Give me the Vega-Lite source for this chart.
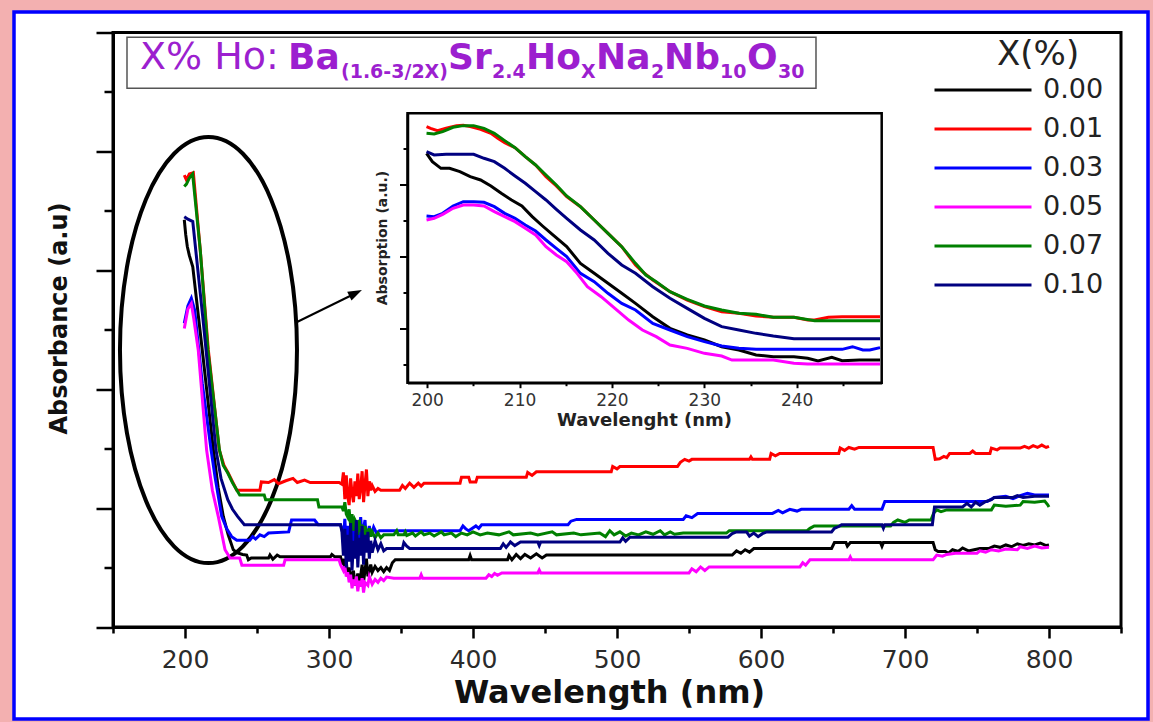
{
  "$schema": "https://vega.github.io/schema/vega-lite/v6.json",
  "width": 1008,
  "height": 594.5,
  "autosize": {"type": "none"},
  "padding": {"left": 113, "top": 32.5, "right": 32, "bottom": 95},
  "background": "white",
  "config": {"view": {"stroke": null}, "font": "DejaVu Sans"},
  "datasets": {
    "main": [
      {"s":"0.00","wl":199.5,"a":6.85},{"s":"0.00","wl":200.5,"a":6.6},{"s":"0.00","wl":201.6,"a":6.4},{"s":"0.00","wl":203,"a":6.25},{"s":"0.00","wl":205.4,"a":6.06},{"s":"0.00","wl":212.5,"a":4.55},{"s":"0.00","wl":219.7,"a":2.98},{"s":"0.00","wl":223,"a":2.35},{"s":"0.00","wl":226.6,"a":1.86},{"s":"0.00","wl":230,"a":1.55},{"s":"0.00","wl":233.5,"a":1.3},{"s":"0.00","wl":236,"a":1.25},{"s":"0.00","wl":240,"a":1.22},{"s":"0.00","wl":242.8,"a":1.21},{"s":"0.00","wl":244,"a":1.13},{"s":"0.00","wl":246,"a":1.16},{"s":"0.00","wl":258,"a":1.16},{"s":"0.00","wl":259,"a":1.21},{"s":"0.00","wl":261,"a":1.14},{"s":"0.00","wl":264,"a":1.21},{"s":"0.00","wl":266,"a":1.18},{"s":"0.00","wl":301,"a":1.18},{"s":"0.00","wl":302,"a":1.22},{"s":"0.00","wl":304,"a":1.18},{"s":"0.00","wl":308,"a":1.18},{"s":"0.00","wl":309,"a":1.05},{"s":"0.00","wl":310,"a":1.15},{"s":"0.00","wl":311,"a":0.95},{"s":"0.00","wl":312,"a":1.1},{"s":"0.00","wl":313,"a":0.85},{"s":"0.00","wl":314,"a":1.0},{"s":"0.00","wl":316,"a":0.78},{"s":"0.00","wl":317,"a":0.95},{"s":"0.00","wl":318,"a":0.7},{"s":"0.00","wl":320,"a":0.9},{"s":"0.00","wl":321,"a":0.68},{"s":"0.00","wl":323,"a":1.05},{"s":"0.00","wl":324,"a":0.75},{"s":"0.00","wl":326,"a":1.15},{"s":"0.00","wl":327,"a":0.85},{"s":"0.00","wl":329,"a":1.05},{"s":"0.00","wl":330,"a":0.92},{"s":"0.00","wl":332,"a":1.02},{"s":"0.00","wl":334,"a":0.95},{"s":"0.00","wl":336,"a":1.0},{"s":"0.00","wl":338,"a":0.93},{"s":"0.00","wl":340,"a":1.0},{"s":"0.00","wl":342,"a":0.95},{"s":"0.00","wl":344,"a":1.08},{"s":"0.00","wl":346,"a":1.13},{"s":"0.00","wl":397,"a":1.13},{"s":"0.00","wl":398,"a":1.2},{"s":"0.00","wl":399,"a":1.13},{"s":"0.00","wl":424,"a":1.13},{"s":"0.00","wl":425,"a":1.2},{"s":"0.00","wl":427,"a":1.13},{"s":"0.00","wl":430,"a":1.22},{"s":"0.00","wl":433,"a":1.15},{"s":"0.00","wl":436,"a":1.22},{"s":"0.00","wl":440,"a":1.16},{"s":"0.00","wl":444,"a":1.23},{"s":"0.00","wl":448,"a":1.16},{"s":"0.00","wl":451,"a":1.21},{"s":"0.00","wl":580,"a":1.21},{"s":"0.00","wl":583,"a":1.28},{"s":"0.00","wl":586,"a":1.24},{"s":"0.00","wl":589,"a":1.3},{"s":"0.00","wl":592,"a":1.26},{"s":"0.00","wl":595,"a":1.32},{"s":"0.00","wl":649,"a":1.32},{"s":"0.00","wl":651,"a":1.42},{"s":"0.00","wl":659,"a":1.42},{"s":"0.00","wl":660,"a":1.36},{"s":"0.00","wl":662,"a":1.42},{"s":"0.00","wl":683,"a":1.42},{"s":"0.00","wl":684,"a":1.36},{"s":"0.00","wl":685,"a":1.42},{"s":"0.00","wl":719.5,"a":1.42},{"s":"0.00","wl":721,"a":1.3},{"s":"0.00","wl":723,"a":1.27},{"s":"0.00","wl":728,"a":1.27},{"s":"0.00","wl":730,"a":1.24},{"s":"0.00","wl":733,"a":1.3},{"s":"0.00","wl":737,"a":1.27},{"s":"0.00","wl":740,"a":1.33},{"s":"0.00","wl":744,"a":1.28},{"s":"0.00","wl":748,"a":1.3},{"s":"0.00","wl":752,"a":1.32},{"s":"0.00","wl":758,"a":1.32},{"s":"0.00","wl":762,"a":1.36},{"s":"0.00","wl":766,"a":1.34},{"s":"0.00","wl":770,"a":1.38},{"s":"0.00","wl":774,"a":1.35},{"s":"0.00","wl":778,"a":1.4},{"s":"0.00","wl":782,"a":1.37},{"s":"0.00","wl":786,"a":1.4},{"s":"0.00","wl":790,"a":1.38},{"s":"0.00","wl":794,"a":1.41},{"s":"0.00","wl":798,"a":1.37},{"s":"0.00","wl":800,"a":1.38},
      {"s":"0.01","wl":199.5,"a":7.6},{"s":"0.01","wl":201,"a":7.52},{"s":"0.01","wl":203,"a":7.62},{"s":"0.01","wl":205.8,"a":7.64},{"s":"0.01","wl":210.6,"a":6.34},{"s":"0.01","wl":216.2,"a":4.66},{"s":"0.01","wl":223.8,"a":2.98},{"s":"0.01","wl":227,"a":2.72},{"s":"0.01","wl":230,"a":2.59},{"s":"0.01","wl":233.5,"a":2.42},{"s":"0.01","wl":236,"a":2.3},{"s":"0.01","wl":252,"a":2.3},{"s":"0.01","wl":253,"a":2.44},{"s":"0.01","wl":258,"a":2.43},{"s":"0.01","wl":262,"a":2.48},{"s":"0.01","wl":265,"a":2.41},{"s":"0.01","wl":270,"a":2.46},{"s":"0.01","wl":275,"a":2.5},{"s":"0.01","wl":278,"a":2.43},{"s":"0.01","wl":283,"a":2.47},{"s":"0.01","wl":287,"a":2.43},{"s":"0.01","wl":307,"a":2.43},{"s":"0.01","wl":309,"a":2.4},{"s":"0.01","wl":310,"a":2.6},{"s":"0.01","wl":311,"a":2.15},{"s":"0.01","wl":312,"a":2.55},{"s":"0.01","wl":313,"a":2.2},{"s":"0.01","wl":314,"a":2.05},{"s":"0.01","wl":315,"a":2.5},{"s":"0.01","wl":316,"a":2.25},{"s":"0.01","wl":317,"a":2.1},{"s":"0.01","wl":318,"a":2.45},{"s":"0.01","wl":319,"a":2.2},{"s":"0.01","wl":320,"a":2.58},{"s":"0.01","wl":321,"a":2.15},{"s":"0.01","wl":322,"a":2.35},{"s":"0.01","wl":323,"a":2.62},{"s":"0.01","wl":324,"a":2.1},{"s":"0.01","wl":325,"a":2.4},{"s":"0.01","wl":326,"a":2.65},{"s":"0.01","wl":327,"a":2.2},{"s":"0.01","wl":328,"a":2.45},{"s":"0.01","wl":329,"a":2.3},{"s":"0.01","wl":330,"a":2.38},{"s":"0.01","wl":332,"a":2.28},{"s":"0.01","wl":334,"a":2.33},{"s":"0.01","wl":336,"a":2.3},{"s":"0.01","wl":349,"a":2.3},{"s":"0.01","wl":351,"a":2.38},{"s":"0.01","wl":353,"a":2.33},{"s":"0.01","wl":356,"a":2.42},{"s":"0.01","wl":359,"a":2.35},{"s":"0.01","wl":362,"a":2.42},{"s":"0.01","wl":364,"a":2.37},{"s":"0.01","wl":366,"a":2.42},{"s":"0.01","wl":391,"a":2.42},{"s":"0.01","wl":392,"a":2.52},{"s":"0.01","wl":397,"a":2.52},{"s":"0.01","wl":398,"a":2.44},{"s":"0.01","wl":402,"a":2.44},{"s":"0.01","wl":403,"a":2.52},{"s":"0.01","wl":437,"a":2.52},{"s":"0.01","wl":438,"a":2.6},{"s":"0.01","wl":441,"a":2.55},{"s":"0.01","wl":444,"a":2.61},{"s":"0.01","wl":496,"a":2.61},{"s":"0.01","wl":497,"a":2.7},{"s":"0.01","wl":500,"a":2.66},{"s":"0.01","wl":502,"a":2.7},{"s":"0.01","wl":542,"a":2.7},{"s":"0.01","wl":544,"a":2.77},{"s":"0.01","wl":547,"a":2.82},{"s":"0.01","wl":550,"a":2.79},{"s":"0.01","wl":552,"a":2.82},{"s":"0.01","wl":592,"a":2.82},{"s":"0.01","wl":593,"a":2.86},{"s":"0.01","wl":594,"a":2.82},{"s":"0.01","wl":606,"a":2.82},{"s":"0.01","wl":607,"a":2.92},{"s":"0.01","wl":610,"a":2.88},{"s":"0.01","wl":613,"a":2.92},{"s":"0.01","wl":654,"a":2.92},{"s":"0.01","wl":655,"a":3.01},{"s":"0.01","wl":658,"a":2.97},{"s":"0.01","wl":661,"a":3.02},{"s":"0.01","wl":665,"a":2.99},{"s":"0.01","wl":668,"a":3.02},{"s":"0.01","wl":719.5,"a":3.02},{"s":"0.01","wl":721,"a":2.82},{"s":"0.01","wl":724,"a":2.83},{"s":"0.01","wl":727,"a":2.87},{"s":"0.01","wl":729,"a":2.85},{"s":"0.01","wl":731,"a":2.92},{"s":"0.01","wl":745,"a":2.92},{"s":"0.01","wl":747,"a":2.96},{"s":"0.01","wl":749,"a":2.92},{"s":"0.01","wl":759,"a":2.92},{"s":"0.01","wl":760,"a":3.01},{"s":"0.01","wl":764,"a":2.98},{"s":"0.01","wl":766,"a":3.01},{"s":"0.01","wl":780,"a":3.01},{"s":"0.01","wl":783,"a":3.04},{"s":"0.01","wl":786,"a":3.01},{"s":"0.01","wl":789,"a":3.05},{"s":"0.01","wl":792,"a":3.02},{"s":"0.01","wl":795,"a":3.06},{"s":"0.01","wl":798,"a":3.02},{"s":"0.01","wl":800,"a":3.04},
      {"s":"0.03","wl":199.5,"a":5.11},{"s":"0.03","wl":202,"a":5.4},{"s":"0.03","wl":204.4,"a":5.53},{"s":"0.03","wl":206.7,"a":5.33},{"s":"0.03","wl":212,"a":4.1},{"s":"0.03","wl":218.1,"a":2.98},{"s":"0.03","wl":221,"a":2.5},{"s":"0.03","wl":225.5,"a":1.86},{"s":"0.03","wl":229,"a":1.65},{"s":"0.03","wl":232.4,"a":1.52},{"s":"0.03","wl":236,"a":1.46},{"s":"0.03","wl":245,"a":1.46},{"s":"0.03","wl":247,"a":1.52},{"s":"0.03","wl":249,"a":1.48},{"s":"0.03","wl":252,"a":1.55},{"s":"0.03","wl":255,"a":1.52},{"s":"0.03","wl":258,"a":1.58},{"s":"0.03","wl":272,"a":1.6},{"s":"0.03","wl":274,"a":1.8},{"s":"0.03","wl":290,"a":1.8},{"s":"0.03","wl":292.5,"a":1.72},{"s":"0.03","wl":308,"a":1.72},{"s":"0.03","wl":309,"a":1.65},{"s":"0.03","wl":310,"a":1.5},{"s":"0.03","wl":311,"a":1.82},{"s":"0.03","wl":312,"a":1.35},{"s":"0.03","wl":313,"a":1.7},{"s":"0.03","wl":314,"a":1.45},{"s":"0.03","wl":316,"a":1.85},{"s":"0.03","wl":317,"a":1.4},{"s":"0.03","wl":319,"a":1.75},{"s":"0.03","wl":320,"a":1.3},{"s":"0.03","wl":322,"a":1.85},{"s":"0.03","wl":323,"a":1.5},{"s":"0.03","wl":325,"a":1.8},{"s":"0.03","wl":326,"a":1.45},{"s":"0.03","wl":328,"a":1.7},{"s":"0.03","wl":329,"a":1.52},{"s":"0.03","wl":331,"a":1.68},{"s":"0.03","wl":333,"a":1.58},{"s":"0.03","wl":335,"a":1.62},{"s":"0.03","wl":391,"a":1.62},{"s":"0.03","wl":393,"a":1.7},{"s":"0.03","wl":395,"a":1.65},{"s":"0.03","wl":397,"a":1.62},{"s":"0.03","wl":402,"a":1.7},{"s":"0.03","wl":404,"a":1.66},{"s":"0.03","wl":406,"a":1.72},{"s":"0.03","wl":466,"a":1.72},{"s":"0.03","wl":468,"a":1.78},{"s":"0.03","wl":472,"a":1.81},{"s":"0.03","wl":546,"a":1.81},{"s":"0.03","wl":548,"a":1.87},{"s":"0.03","wl":552,"a":1.84},{"s":"0.03","wl":556,"a":1.91},{"s":"0.03","wl":608,"a":1.91},{"s":"0.03","wl":612,"a":1.96},{"s":"0.03","wl":615,"a":1.92},{"s":"0.03","wl":620,"a":1.98},{"s":"0.03","wl":625,"a":1.95},{"s":"0.03","wl":628,"a":1.98},{"s":"0.03","wl":661,"a":1.98},{"s":"0.03","wl":663,"a":2.04},{"s":"0.03","wl":665,"a":1.98},{"s":"0.03","wl":684,"a":1.98},{"s":"0.03","wl":686,"a":2.11},{"s":"0.03","wl":757,"a":2.11},{"s":"0.03","wl":760,"a":2.15},{"s":"0.03","wl":762,"a":2.18},{"s":"0.03","wl":770,"a":2.2},{"s":"0.03","wl":775,"a":2.16},{"s":"0.03","wl":780,"a":2.21},{"s":"0.03","wl":785,"a":2.25},{"s":"0.03","wl":790,"a":2.22},{"s":"0.03","wl":800,"a":2.22},
      {"s":"0.05","wl":199.5,"a":5.02},{"s":"0.05","wl":202,"a":5.35},{"s":"0.05","wl":204.4,"a":5.44},{"s":"0.05","wl":206,"a":5.2},{"s":"0.05","wl":209.2,"a":4.66},{"s":"0.05","wl":215,"a":2.98},{"s":"0.05","wl":219,"a":2.3},{"s":"0.05","wl":223.1,"a":1.86},{"s":"0.05","wl":227.8,"a":1.3},{"s":"0.05","wl":231.3,"a":1.16},{"s":"0.05","wl":238,"a":1.16},{"s":"0.05","wl":239.5,"a":1.04},{"s":"0.05","wl":268.5,"a":1.04},{"s":"0.05","wl":269.5,"a":1.13},{"s":"0.05","wl":307,"a":1.13},{"s":"0.05","wl":308,"a":1.05},{"s":"0.05","wl":309,"a":1.0},{"s":"0.05","wl":310,"a":0.95},{"s":"0.05","wl":311,"a":1.02},{"s":"0.05","wl":312,"a":0.85},{"s":"0.05","wl":313,"a":0.92},{"s":"0.05","wl":314,"a":0.75},{"s":"0.05","wl":315,"a":0.88},{"s":"0.05","wl":316,"a":0.65},{"s":"0.05","wl":317,"a":0.8},{"s":"0.05","wl":318,"a":0.7},{"s":"0.05","wl":319,"a":0.85},{"s":"0.05","wl":320,"a":0.6},{"s":"0.05","wl":321,"a":0.78},{"s":"0.05","wl":322,"a":0.68},{"s":"0.05","wl":323,"a":0.82},{"s":"0.05","wl":324,"a":0.58},{"s":"0.05","wl":325,"a":0.75},{"s":"0.05","wl":327,"a":0.7},{"s":"0.05","wl":328,"a":0.85},{"s":"0.05","wl":330,"a":0.72},{"s":"0.05","wl":332,"a":0.8},{"s":"0.05","wl":334,"a":0.75},{"s":"0.05","wl":336,"a":0.82},{"s":"0.05","wl":338,"a":0.78},{"s":"0.05","wl":340,"a":0.84},{"s":"0.05","wl":345,"a":0.82},{"s":"0.05","wl":363,"a":0.82},{"s":"0.05","wl":364,"a":0.88},{"s":"0.05","wl":365,"a":0.82},{"s":"0.05","wl":409,"a":0.82},{"s":"0.05","wl":411,"a":0.88},{"s":"0.05","wl":413,"a":0.85},{"s":"0.05","wl":415,"a":0.9},{"s":"0.05","wl":417,"a":0.87},{"s":"0.05","wl":420,"a":0.91},{"s":"0.05","wl":445,"a":0.91},{"s":"0.05","wl":446,"a":0.96},{"s":"0.05","wl":447,"a":0.91},{"s":"0.05","wl":550,"a":0.91},{"s":"0.05","wl":552,"a":0.98},{"s":"0.05","wl":555,"a":0.93},{"s":"0.05","wl":558,"a":1.01},{"s":"0.05","wl":561,"a":0.95},{"s":"0.05","wl":564,"a":1.01},{"s":"0.05","wl":627,"a":1.01},{"s":"0.05","wl":629,"a":1.08},{"s":"0.05","wl":631,"a":1.04},{"s":"0.05","wl":634,"a":1.13},{"s":"0.05","wl":661,"a":1.13},{"s":"0.05","wl":662,"a":1.18},{"s":"0.05","wl":663,"a":1.13},{"s":"0.05","wl":719.5,"a":1.13},{"s":"0.05","wl":722,"a":1.21},{"s":"0.05","wl":726,"a":1.19},{"s":"0.05","wl":729,"a":1.22},{"s":"0.05","wl":735,"a":1.24},{"s":"0.05","wl":750,"a":1.24},{"s":"0.05","wl":752,"a":1.28},{"s":"0.05","wl":756,"a":1.26},{"s":"0.05","wl":760,"a":1.3},{"s":"0.05","wl":765,"a":1.28},{"s":"0.05","wl":770,"a":1.31},{"s":"0.05","wl":778,"a":1.3},{"s":"0.05","wl":780,"a":1.35},{"s":"0.05","wl":785,"a":1.32},{"s":"0.05","wl":790,"a":1.36},{"s":"0.05","wl":795,"a":1.33},{"s":"0.05","wl":800,"a":1.34},
      {"s":"0.07","wl":199.5,"a":7.41},{"s":"0.07","wl":201,"a":7.45},{"s":"0.07","wl":203,"a":7.55},{"s":"0.07","wl":205.3,"a":7.62},{"s":"0.07","wl":210.6,"a":6.34},{"s":"0.07","wl":215.9,"a":4.66},{"s":"0.07","wl":223.9,"a":2.98},{"s":"0.07","wl":226.5,"a":2.72},{"s":"0.07","wl":229.7,"a":2.59},{"s":"0.07","wl":233.1,"a":2.42},{"s":"0.07","wl":236,"a":2.3},{"s":"0.07","wl":238,"a":2.22},{"s":"0.07","wl":255,"a":2.22},{"s":"0.07","wl":256,"a":2.14},{"s":"0.07","wl":292,"a":2.14},{"s":"0.07","wl":293,"a":2.02},{"s":"0.07","wl":309,"a":2.02},{"s":"0.07","wl":310,"a":1.95},{"s":"0.07","wl":311,"a":2.1},{"s":"0.07","wl":312,"a":1.9},{"s":"0.07","wl":313,"a":1.85},{"s":"0.07","wl":314,"a":1.98},{"s":"0.07","wl":315,"a":1.7},{"s":"0.07","wl":316,"a":1.9},{"s":"0.07","wl":317,"a":1.62},{"s":"0.07","wl":318,"a":1.8},{"s":"0.07","wl":319,"a":1.75},{"s":"0.07","wl":320,"a":1.55},{"s":"0.07","wl":321,"a":1.8},{"s":"0.07","wl":322,"a":1.6},{"s":"0.07","wl":323,"a":1.72},{"s":"0.07","wl":324,"a":1.52},{"s":"0.07","wl":325,"a":1.7},{"s":"0.07","wl":326,"a":1.58},{"s":"0.07","wl":327,"a":1.5},{"s":"0.07","wl":328,"a":1.66},{"s":"0.07","wl":329,"a":1.52},{"s":"0.07","wl":330,"a":1.6},{"s":"0.07","wl":332,"a":1.5},{"s":"0.07","wl":334,"a":1.58},{"s":"0.07","wl":336,"a":1.5},{"s":"0.07","wl":338,"a":1.55},{"s":"0.07","wl":345,"a":1.55},{"s":"0.07","wl":347,"a":1.62},{"s":"0.07","wl":348,"a":1.55},{"s":"0.07","wl":352,"a":1.55},{"s":"0.07","wl":353,"a":1.6},{"s":"0.07","wl":354,"a":1.54},{"s":"0.07","wl":358,"a":1.58},{"s":"0.07","wl":360,"a":1.53},{"s":"0.07","wl":364,"a":1.6},{"s":"0.07","wl":366,"a":1.55},{"s":"0.07","wl":370,"a":1.58},{"s":"0.07","wl":373,"a":1.53},{"s":"0.07","wl":378,"a":1.6},{"s":"0.07","wl":380,"a":1.55},{"s":"0.07","wl":385,"a":1.58},{"s":"0.07","wl":388,"a":1.52},{"s":"0.07","wl":392,"a":1.58},{"s":"0.07","wl":396,"a":1.55},{"s":"0.07","wl":400,"a":1.6},{"s":"0.07","wl":405,"a":1.55},{"s":"0.07","wl":410,"a":1.58},{"s":"0.07","wl":418,"a":1.55},{"s":"0.07","wl":425,"a":1.6},{"s":"0.07","wl":428,"a":1.55},{"s":"0.07","wl":440,"a":1.58},{"s":"0.07","wl":445,"a":1.55},{"s":"0.07","wl":455,"a":1.6},{"s":"0.07","wl":458,"a":1.55},{"s":"0.07","wl":470,"a":1.58},{"s":"0.07","wl":475,"a":1.55},{"s":"0.07","wl":488,"a":1.58},{"s":"0.07","wl":492,"a":1.52},{"s":"0.07","wl":495,"a":1.62},{"s":"0.07","wl":498,"a":1.55},{"s":"0.07","wl":502,"a":1.6},{"s":"0.07","wl":506,"a":1.53},{"s":"0.07","wl":510,"a":1.58},{"s":"0.07","wl":515,"a":1.55},{"s":"0.07","wl":520,"a":1.6},{"s":"0.07","wl":525,"a":1.56},{"s":"0.07","wl":530,"a":1.62},{"s":"0.07","wl":533,"a":1.55},{"s":"0.07","wl":537,"a":1.6},{"s":"0.07","wl":540,"a":1.56},{"s":"0.07","wl":546,"a":1.58},{"s":"0.07","wl":576,"a":1.58},{"s":"0.07","wl":578,"a":1.62},{"s":"0.07","wl":632,"a":1.62},{"s":"0.07","wl":634,"a":1.66},{"s":"0.07","wl":637,"a":1.7},{"s":"0.07","wl":690,"a":1.7},{"s":"0.07","wl":692,"a":1.76},{"s":"0.07","wl":695,"a":1.8},{"s":"0.07","wl":700,"a":1.76},{"s":"0.07","wl":703,"a":1.8},{"s":"0.07","wl":718,"a":1.8},{"s":"0.07","wl":720,"a":1.92},{"s":"0.07","wl":722,"a":1.97},{"s":"0.07","wl":725,"a":1.94},{"s":"0.07","wl":729,"a":1.97},{"s":"0.07","wl":760,"a":1.97},{"s":"0.07","wl":762,"a":2.05},{"s":"0.07","wl":770,"a":2.03},{"s":"0.07","wl":780,"a":2.05},{"s":"0.07","wl":782,"a":2.11},{"s":"0.07","wl":790,"a":2.1},{"s":"0.07","wl":797,"a":2.12},{"s":"0.07","wl":799,"a":2.06},{"s":"0.07","wl":800,"a":2.02},
      {"s":"0.10","wl":199.5,"a":6.9},{"s":"0.10","wl":202,"a":6.86},{"s":"0.10","wl":205.4,"a":6.82},{"s":"0.10","wl":212.3,"a":5.22},{"s":"0.10","wl":221.5,"a":2.98},{"s":"0.10","wl":225,"a":2.5},{"s":"0.10","wl":229.7,"a":2.14},{"s":"0.10","wl":233,"a":1.98},{"s":"0.10","wl":236.5,"a":1.86},{"s":"0.10","wl":241.2,"a":1.72},{"s":"0.10","wl":308,"a":1.72},{"s":"0.10","wl":309,"a":1.6},{"s":"0.10","wl":310,"a":1.2},{"s":"0.10","wl":311,"a":1.65},{"s":"0.10","wl":312,"a":1.0},{"s":"0.10","wl":313,"a":1.55},{"s":"0.10","wl":314,"a":1.1},{"s":"0.10","wl":315,"a":1.75},{"s":"0.10","wl":316,"a":0.95},{"s":"0.10","wl":317,"a":1.45},{"s":"0.10","wl":318,"a":1.15},{"s":"0.10","wl":319,"a":1.8},{"s":"0.10","wl":320,"a":1.0},{"s":"0.10","wl":321,"a":1.5},{"s":"0.10","wl":322,"a":1.2},{"s":"0.10","wl":323,"a":1.7},{"s":"0.10","wl":324,"a":1.05},{"s":"0.10","wl":325,"a":1.55},{"s":"0.10","wl":326,"a":1.25},{"s":"0.10","wl":327,"a":1.6},{"s":"0.10","wl":328,"a":1.15},{"s":"0.10","wl":329,"a":1.45},{"s":"0.10","wl":330,"a":1.25},{"s":"0.10","wl":332,"a":1.45},{"s":"0.10","wl":334,"a":1.3},{"s":"0.10","wl":336,"a":1.4},{"s":"0.10","wl":338,"a":1.28},{"s":"0.10","wl":340,"a":1.32},{"s":"0.10","wl":351,"a":1.32},{"s":"0.10","wl":352,"a":1.42},{"s":"0.10","wl":354,"a":1.36},{"s":"0.10","wl":356,"a":1.32},{"s":"0.10","wl":419,"a":1.32},{"s":"0.10","wl":421,"a":1.4},{"s":"0.10","wl":423,"a":1.34},{"s":"0.10","wl":426,"a":1.43},{"s":"0.10","wl":429,"a":1.37},{"s":"0.10","wl":433,"a":1.43},{"s":"0.10","wl":445,"a":1.43},{"s":"0.10","wl":446,"a":1.37},{"s":"0.10","wl":447,"a":1.43},{"s":"0.10","wl":502,"a":1.43},{"s":"0.10","wl":504,"a":1.5},{"s":"0.10","wl":506,"a":1.44},{"s":"0.10","wl":509,"a":1.51},{"s":"0.10","wl":577,"a":1.51},{"s":"0.10","wl":580,"a":1.57},{"s":"0.10","wl":583,"a":1.6},{"s":"0.10","wl":590,"a":1.6},{"s":"0.10","wl":592,"a":1.53},{"s":"0.10","wl":595,"a":1.58},{"s":"0.10","wl":598,"a":1.52},{"s":"0.10","wl":601,"a":1.57},{"s":"0.10","wl":604,"a":1.6},{"s":"0.10","wl":649,"a":1.6},{"s":"0.10","wl":651,"a":1.66},{"s":"0.10","wl":654,"a":1.69},{"s":"0.10","wl":656,"a":1.72},{"s":"0.10","wl":684,"a":1.72},{"s":"0.10","wl":685,"a":1.66},{"s":"0.10","wl":686,"a":1.72},{"s":"0.10","wl":719,"a":1.72},{"s":"0.10","wl":720.5,"a":2.02},{"s":"0.10","wl":740,"a":2.02},{"s":"0.10","wl":743,"a":2.08},{"s":"0.10","wl":746,"a":2.02},{"s":"0.10","wl":749,"a":2.1},{"s":"0.10","wl":752,"a":2.05},{"s":"0.10","wl":756,"a":2.11},{"s":"0.10","wl":760,"a":2.14},{"s":"0.10","wl":762,"a":2.18},{"s":"0.10","wl":775,"a":2.18},{"s":"0.10","wl":778,"a":2.21},{"s":"0.10","wl":782,"a":2.18},{"s":"0.10","wl":790,"a":2.2},{"s":"0.10","wl":800,"a":2.2}
    ],
    "inset": [
      {"s":"0.00","wl":199.93,"a":6.863},{"s":"0.00","wl":200.56,"a":6.631},{"s":"0.00","wl":201.49,"a":6.445},{"s":"0.00","wl":202.42,"a":6.445},{"s":"0.00","wl":203.54,"a":6.353},{"s":"0.00","wl":204.66,"a":6.213},{"s":"0.00","wl":205.78,"a":6.121},{"s":"0.00","wl":206.9,"a":5.954},{"s":"0.00","wl":208.02,"a":5.75},{"s":"0.00","wl":209.13,"a":5.564},{"s":"0.00","wl":210.25,"a":5.397},{"s":"0.00","wl":211.37,"a":5.1},{"s":"0.00","wl":212.49,"a":4.84},{"s":"0.00","wl":213.61,"a":4.59},{"s":"0.00","wl":215.1,"a":4.265},{"s":"0.00","wl":216.59,"a":3.801},{"s":"0.00","wl":218.08,"a":3.523},{"s":"0.00","wl":219.57,"a":3.245},{"s":"0.00","wl":221.06,"a":2.967},{"s":"0.00","wl":222.55,"a":2.688},{"s":"0.00","wl":224.42,"a":2.317},{"s":"0.00","wl":226.28,"a":1.993},{"s":"0.00","wl":228.15,"a":1.807},{"s":"0.00","wl":230.01,"a":1.668},{"s":"0.00","wl":231.88,"a":1.482},{"s":"0.00","wl":233.74,"a":1.39},{"s":"0.00","wl":235.6,"a":1.25},{"s":"0.00","wl":237.47,"a":1.204},{"s":"0.00","wl":239.7,"a":1.204},{"s":"0.00","wl":241.19,"a":1.158},{"s":"0.00","wl":242.31,"a":1.083},{"s":"0.00","wl":243.8,"a":1.186},{"s":"0.00","wl":244.92,"a":1.093},{"s":"0.00","wl":246.79,"a":1.111},{"s":"0.00","wl":249.02,"a":1.111},
      {"s":"0.01","wl":199.93,"a":7.605},{"s":"0.01","wl":200.37,"a":7.558},{"s":"0.01","wl":201.12,"a":7.494},{"s":"0.01","wl":202.05,"a":7.558},{"s":"0.01","wl":203.17,"a":7.633},{"s":"0.01","wl":203.91,"a":7.642},{"s":"0.01","wl":204.66,"a":7.605},{"s":"0.01","wl":205.78,"a":7.531},{"s":"0.01","wl":206.9,"a":7.419},{"s":"0.01","wl":207.64,"a":7.28},{"s":"0.01","wl":208.39,"a":7.16},{"s":"0.01","wl":209.51,"a":7.02},{"s":"0.01","wl":210.62,"a":6.77},{"s":"0.01","wl":211.74,"a":6.538},{"s":"0.01","wl":212.86,"a":6.213},{"s":"0.01","wl":213.98,"a":5.954},{"s":"0.01","wl":215.1,"a":5.657},{"s":"0.01","wl":216.59,"a":5.378},{"s":"0.01","wl":218.08,"a":5.007},{"s":"0.01","wl":219.57,"a":4.636},{"s":"0.01","wl":221.06,"a":4.265},{"s":"0.01","wl":222.55,"a":3.755},{"s":"0.01","wl":223.3,"a":3.57},{"s":"0.01","wl":224.42,"a":3.338},{"s":"0.01","wl":226.28,"a":3.013},{"s":"0.01","wl":228.15,"a":2.781},{"s":"0.01","wl":230.01,"a":2.596},{"s":"0.01","wl":231.88,"a":2.456},{"s":"0.01","wl":233.74,"a":2.41},{"s":"0.01","wl":235.6,"a":2.336},{"s":"0.01","wl":237.47,"a":2.299},{"s":"0.01","wl":239.7,"a":2.299},{"s":"0.01","wl":241.19,"a":2.224},{"s":"0.01","wl":241.94,"a":2.224},{"s":"0.01","wl":243.43,"a":2.299},{"s":"0.01","wl":244.92,"a":2.317},{"s":"0.01","wl":249.02,"a":2.317},
      {"s":"0.03","wl":199.93,"a":5.119},{"s":"0.03","wl":200.75,"a":5.1},{"s":"0.03","wl":201.68,"a":5.193},{"s":"0.03","wl":202.8,"a":5.397},{"s":"0.03","wl":203.91,"a":5.518},{"s":"0.03","wl":205.03,"a":5.518},{"s":"0.03","wl":206.15,"a":5.499},{"s":"0.03","wl":207.27,"a":5.378},{"s":"0.03","wl":208.39,"a":5.193},{"s":"0.03","wl":209.51,"a":5.054},{"s":"0.03","wl":210.62,"a":4.868},{"s":"0.03","wl":211.74,"a":4.701},{"s":"0.03","wl":212.86,"a":4.451},{"s":"0.03","wl":213.98,"a":4.219},{"s":"0.03","wl":215.1,"a":3.987},{"s":"0.03","wl":216.59,"a":3.523},{"s":"0.03","wl":218.08,"a":3.291},{"s":"0.03","wl":219.57,"a":2.967},{"s":"0.03","wl":221.06,"a":2.688},{"s":"0.03","wl":222.55,"a":2.503},{"s":"0.03","wl":224.42,"a":2.132},{"s":"0.03","wl":226.28,"a":1.946},{"s":"0.03","wl":228.15,"a":1.761},{"s":"0.03","wl":230.01,"a":1.622},{"s":"0.03","wl":231.88,"a":1.501},{"s":"0.03","wl":233.74,"a":1.436},{"s":"0.03","wl":235.6,"a":1.408},{"s":"0.03","wl":237.47,"a":1.408},{"s":"0.03","wl":239.7,"a":1.408},{"s":"0.03","wl":244.92,"a":1.408},{"s":"0.03","wl":246.04,"a":1.482},{"s":"0.03","wl":247.16,"a":1.39},{"s":"0.03","wl":247.91,"a":1.39},{"s":"0.03","wl":249.02,"a":1.455},
      {"s":"0.05","wl":199.93,"a":5.007},{"s":"0.05","wl":200.75,"a":5.054},{"s":"0.05","wl":201.68,"a":5.165},{"s":"0.05","wl":202.8,"a":5.332},{"s":"0.05","wl":203.91,"a":5.425},{"s":"0.05","wl":205.03,"a":5.425},{"s":"0.05","wl":206.15,"a":5.397},{"s":"0.05","wl":207.27,"a":5.239},{"s":"0.05","wl":208.39,"a":5.1},{"s":"0.05","wl":209.51,"a":4.961},{"s":"0.05","wl":210.62,"a":4.776},{"s":"0.05","wl":211.74,"a":4.59},{"s":"0.05","wl":212.86,"a":4.265},{"s":"0.05","wl":213.98,"a":4.033},{"s":"0.05","wl":215.1,"a":3.848},{"s":"0.05","wl":216.22,"a":3.523},{"s":"0.05","wl":217.34,"a":3.152},{"s":"0.05","wl":218.83,"a":2.874},{"s":"0.05","wl":220.32,"a":2.549},{"s":"0.05","wl":221.81,"a":2.224},{"s":"0.05","wl":223.3,"a":1.946},{"s":"0.05","wl":224.79,"a":1.761},{"s":"0.05","wl":226.28,"a":1.529},{"s":"0.05","wl":228.15,"a":1.436},{"s":"0.05","wl":230.01,"a":1.297},{"s":"0.05","wl":231.88,"a":1.223},{"s":"0.05","wl":232.99,"a":1.111},{"s":"0.05","wl":235.6,"a":1.111},{"s":"0.05","wl":237.47,"a":1.111},{"s":"0.05","wl":239.7,"a":1.019},{"s":"0.05","wl":241.19,"a":1.0},{"s":"0.05","wl":244.92,"a":1.0},{"s":"0.05","wl":249.02,"a":1.0},
      {"s":"0.07","wl":199.93,"a":7.419},{"s":"0.07","wl":200.75,"a":7.401},{"s":"0.07","wl":201.68,"a":7.466},{"s":"0.07","wl":202.8,"a":7.586},{"s":"0.07","wl":203.91,"a":7.633},{"s":"0.07","wl":205.03,"a":7.633},{"s":"0.07","wl":206.15,"a":7.558},{"s":"0.07","wl":207.27,"a":7.419},{"s":"0.07","wl":208.39,"a":7.215},{"s":"0.07","wl":209.51,"a":7.02},{"s":"0.07","wl":210.62,"a":6.77},{"s":"0.07","wl":211.74,"a":6.538},{"s":"0.07","wl":212.86,"a":6.26},{"s":"0.07","wl":213.98,"a":5.981},{"s":"0.07","wl":215.1,"a":5.675},{"s":"0.07","wl":216.59,"a":5.378},{"s":"0.07","wl":218.08,"a":5.007},{"s":"0.07","wl":219.57,"a":4.636},{"s":"0.07","wl":221.06,"a":4.265},{"s":"0.07","wl":222.55,"a":3.801},{"s":"0.07","wl":223.67,"a":3.477},{"s":"0.07","wl":224.79,"a":3.291},{"s":"0.07","wl":226.28,"a":3.013},{"s":"0.07","wl":228.15,"a":2.8},{"s":"0.07","wl":230.01,"a":2.614},{"s":"0.07","wl":231.88,"a":2.503},{"s":"0.07","wl":233.74,"a":2.41},{"s":"0.07","wl":235.6,"a":2.382},{"s":"0.07","wl":237.47,"a":2.299},{"s":"0.07","wl":239.7,"a":2.299},{"s":"0.07","wl":241.94,"a":2.206},{"s":"0.07","wl":244.92,"a":2.206},{"s":"0.07","wl":249.02,"a":2.206},
      {"s":"0.10","wl":199.93,"a":6.909},{"s":"0.10","wl":200.75,"a":6.816},{"s":"0.10","wl":202.05,"a":6.835},{"s":"0.10","wl":203.91,"a":6.835},{"s":"0.10","wl":205.03,"a":6.835},{"s":"0.10","wl":206.15,"a":6.724},{"s":"0.10","wl":207.27,"a":6.631},{"s":"0.10","wl":208.39,"a":6.445},{"s":"0.10","wl":209.51,"a":6.232},{"s":"0.10","wl":210.62,"a":6.028},{"s":"0.10","wl":211.74,"a":5.796},{"s":"0.10","wl":212.86,"a":5.564},{"s":"0.10","wl":213.98,"a":5.304},{"s":"0.10","wl":215.1,"a":5.054},{"s":"0.10","wl":216.59,"a":4.729},{"s":"0.10","wl":218.08,"a":4.451},{"s":"0.10","wl":219.57,"a":4.08},{"s":"0.10","wl":221.06,"a":3.755},{"s":"0.10","wl":222.55,"a":3.523},{"s":"0.10","wl":224.42,"a":3.152},{"s":"0.10","wl":226.28,"a":2.827},{"s":"0.10","wl":228.15,"a":2.549},{"s":"0.10","wl":230.01,"a":2.271},{"s":"0.10","wl":231.88,"a":2.039},{"s":"0.10","wl":233.74,"a":1.946},{"s":"0.10","wl":235.6,"a":1.853},{"s":"0.10","wl":237.47,"a":1.779},{"s":"0.10","wl":239.7,"a":1.705},{"s":"0.10","wl":241.19,"a":1.705},{"s":"0.10","wl":244.92,"a":1.705},{"s":"0.10","wl":249.02,"a":1.705}
    ]
  },
  "resolve": {"scale": {"x": "independent", "y": "independent"}, "axis": {"x": "independent", "y": "independent"}},
  "layer": [
    {
      "layer": [
        {
          "data": {"values": [{}]},
          "mark": {"type": "rect", "fill": "white", "fillOpacity": 0, "stroke": "#f3b0b0", "strokeWidth": 50},
          "encoding": {
            "x": {"datum": 63.54, "type": "quantitative", "axis": null, "scale": {"domain": [150, 850], "nice": false, "zero": false}},
            "x2": {"datum": 886.81},
            "y": {"datum": 10.749, "type": "quantitative", "axis": null, "scale": {"domain": [0, 10], "nice": false, "zero": false}},
            "y2": {"datum": -1.985}
          }
        },
        {
          "data": {"values": [{}]},
          "mark": {"type": "rect", "fill": "white", "fillOpacity": 0, "stroke": "#0000ff", "strokeWidth": 3.5},
          "encoding": {
            "x": {"datum": 81.25, "type": "quantitative", "axis": null},
            "x2": {"datum": 868.75},
            "y": {"datum": 10.345, "type": "quantitative", "axis": null},
            "y2": {"datum": -1.548}
          }
        },
        {
          "data": {"values": [{}]},
          "mark": {"type": "rect", "fill": "white", "fillOpacity": 0, "stroke": "black", "strokeWidth": 3},
          "encoding": {
            "x": {"datum": 150, "type": "quantitative", "axis": null},
            "x2": {"datum": 850},
            "y": {"datum": 0, "type": "quantitative", "axis": null},
            "y2": {"datum": 10}
          }
        },
        {
          "data": {"values": [{}]},
          "mark": {"type": "text", "align": "left", "baseline": "alphabetic", "font": "DejaVu Sans", "fontSize": 34, "color": "#222222"},
          "encoding": {"x": {"datum": 763.9, "type": "quantitative", "axis": null}, "y": {"datum": 9.453, "type": "quantitative", "axis": null}, "text": {"value": "X(%)"}}
        },
        {
          "data": {"values": [{}]},
          "mark": {"type": "rect", "fill": "white", "stroke": "#555555", "strokeWidth": 1.5},
          "encoding": {
            "x": {"datum": 159.72, "type": "quantitative", "axis": null},
            "x2": {"datum": 638.19},
            "y": {"datum": 9.919, "type": "quantitative", "axis": null},
            "y2": {"datum": 9.061}
          }
        },
        {"data": {"values": [{}]}, "mark": {"type": "text", "align": "left", "baseline": "alphabetic", "font": "DejaVu Sans", "fontSize": 38, "color": "#9c1fcf"}, "encoding": {"x": {"datum": 168.75, "type": "quantitative", "axis": null}, "y": {"datum": 9.378, "type": "quantitative", "axis": null}, "text": {"value": "X% Ho:"}}},
        {"data": {"values": [{}]}, "mark": {"type": "text", "align": "left", "baseline": "alphabetic", "font": "DejaVu Sans", "fontSize": 36, "fontWeight": "bold", "color": "#9c1fcf"}, "encoding": {"x": {"datum": 271.53, "type": "quantitative", "axis": null}, "y": {"datum": 9.378, "type": "quantitative", "axis": null}, "text": {"value": "Ba"}}},
        {"data": {"values": [{}]}, "mark": {"type": "text", "align": "left", "baseline": "alphabetic", "font": "DejaVu Sans", "fontSize": 19, "fontWeight": "bold", "color": "#9c1fcf"}, "encoding": {"x": {"datum": 308.33, "type": "quantitative", "axis": null}, "y": {"datum": 9.235, "type": "quantitative", "axis": null}, "text": {"value": "(1.6-3/2X)"}}},
        {"data": {"values": [{}]}, "mark": {"type": "text", "align": "left", "baseline": "alphabetic", "font": "DejaVu Sans", "fontSize": 36, "fontWeight": "bold", "color": "#9c1fcf"}, "encoding": {"x": {"datum": 382.64, "type": "quantitative", "axis": null}, "y": {"datum": 9.378, "type": "quantitative", "axis": null}, "text": {"value": "Sr"}}},
        {"data": {"values": [{}]}, "mark": {"type": "text", "align": "left", "baseline": "alphabetic", "font": "DejaVu Sans", "fontSize": 19, "fontWeight": "bold", "color": "#9c1fcf"}, "encoding": {"x": {"datum": 413.19, "type": "quantitative", "axis": null}, "y": {"datum": 9.235, "type": "quantitative", "axis": null}, "text": {"value": "2.4"}}},
        {"data": {"values": [{}]}, "mark": {"type": "text", "align": "left", "baseline": "alphabetic", "font": "DejaVu Sans", "fontSize": 36, "fontWeight": "bold", "color": "#9c1fcf"}, "encoding": {"x": {"datum": 436.81, "type": "quantitative", "axis": null}, "y": {"datum": 9.378, "type": "quantitative", "axis": null}, "text": {"value": "Ho"}}},
        {"data": {"values": [{}]}, "mark": {"type": "text", "align": "left", "baseline": "alphabetic", "font": "DejaVu Sans", "fontSize": 19, "fontWeight": "bold", "color": "#9c1fcf"}, "encoding": {"x": {"datum": 475.0, "type": "quantitative", "axis": null}, "y": {"datum": 9.235, "type": "quantitative", "axis": null}, "text": {"value": "X"}}},
        {"data": {"values": [{}]}, "mark": {"type": "text", "align": "left", "baseline": "alphabetic", "font": "DejaVu Sans", "fontSize": 36, "fontWeight": "bold", "color": "#9c1fcf"}, "encoding": {"x": {"datum": 485.42, "type": "quantitative", "axis": null}, "y": {"datum": 9.378, "type": "quantitative", "axis": null}, "text": {"value": "Na"}}},
        {"data": {"values": [{}]}, "mark": {"type": "text", "align": "left", "baseline": "alphabetic", "font": "DejaVu Sans", "fontSize": 19, "fontWeight": "bold", "color": "#9c1fcf"}, "encoding": {"x": {"datum": 523.61, "type": "quantitative", "axis": null}, "y": {"datum": 9.235, "type": "quantitative", "axis": null}, "text": {"value": "2"}}},
        {"data": {"values": [{}]}, "mark": {"type": "text", "align": "left", "baseline": "alphabetic", "font": "DejaVu Sans", "fontSize": 36, "fontWeight": "bold", "color": "#9c1fcf"}, "encoding": {"x": {"datum": 532.64, "type": "quantitative", "axis": null}, "y": {"datum": 9.378, "type": "quantitative", "axis": null}, "text": {"value": "Nb"}}},
        {"data": {"values": [{}]}, "mark": {"type": "text", "align": "left", "baseline": "alphabetic", "font": "DejaVu Sans", "fontSize": 19, "fontWeight": "bold", "color": "#9c1fcf"}, "encoding": {"x": {"datum": 571.53, "type": "quantitative", "axis": null}, "y": {"datum": 9.235, "type": "quantitative", "axis": null}, "text": {"value": "10"}}},
        {"data": {"values": [{}]}, "mark": {"type": "text", "align": "left", "baseline": "alphabetic", "font": "DejaVu Sans", "fontSize": 36, "fontWeight": "bold", "color": "#9c1fcf"}, "encoding": {"x": {"datum": 590.28, "type": "quantitative", "axis": null}, "y": {"datum": 9.378, "type": "quantitative", "axis": null}, "text": {"value": "O"}}},
        {"data": {"values": [{}]}, "mark": {"type": "text", "align": "left", "baseline": "alphabetic", "font": "DejaVu Sans", "fontSize": 19, "fontWeight": "bold", "color": "#9c1fcf"}, "encoding": {"x": {"datum": 611.81, "type": "quantitative", "axis": null}, "y": {"datum": 9.235, "type": "quantitative", "axis": null}, "text": {"value": "30"}}},
        {
          "data": {"values": [{}]},
          "mark": {"type": "point", "shape": "M0,-1C0.2295,-1 0.4155,-0.5523 0.4155,0C0.4155,0.5523 0.2295,1 0,1C-0.2295,1 -0.4155,0.5523 -0.4155,0C-0.4155,-0.5523 -0.2295,-1 0,-1Z", "size": 181476, "filled": false, "stroke": "black", "strokeWidth": 4, "opacity": 1},
          "encoding": {"x": {"datum": 216.3, "type": "quantitative", "axis": null}, "y": {"datum": 4.659, "type": "quantitative", "axis": null}}
        },
        {
          "data": {"values": [{}]},
          "mark": {"type": "rule", "color": "black", "strokeWidth": 2},
          "encoding": {"x": {"datum": 277.8, "type": "quantitative", "axis": null}, "y": {"datum": 5.13, "type": "quantitative", "axis": null}, "x2": {"datum": 315.3}, "y2": {"datum": 5.576}}
        },
        {
          "data": {"values": [{}]},
          "mark": {"type": "point", "shape": "M1,0L-1,-0.7L-1,0.7Z", "size": 196, "filled": true, "color": "black", "opacity": 1, "angle": 333.8},
          "encoding": {"x": {"datum": 318.5, "type": "quantitative", "axis": null}, "y": {"datum": 5.617, "type": "quantitative", "axis": null}}
        }
      ]
    },
    {
      "data": {"name": "main"},
      "mark": {"type": "line", "strokeWidth": 3},
      "encoding": {
        "x": {
          "field": "wl", "type": "quantitative",
          "scale": {"domain": [150, 850], "nice": false, "zero": false},
          "axis": {
            "orient": "bottom",
            "values": [200, 300, 400, 500, 600, 700, 800],
            "format": "d",
            "grid": false, "zindex": 1,
            "domainColor": "black", "domainWidth": 3,
            "tickColor": "black", "tickWidth": 2.5, "tickSize": 11,
            "labelFont": "DejaVu Sans", "labelFontSize": 25, "labelColor": "#2b2b2b", "labelPadding": 9,
            "labelFlush": false, "labelOverlap": false,
            "title": "Wavelength (nm)", "titleFont": "DejaVu Sans", "titleFontWeight": "bold", "titleFontSize": 32, "titleColor": "#111111",
            "titleX": 496, "titleY": 75, "titleBaseline": "alphabetic", "titleAlign": "center"
          }
        },
        "y": {
          "field": "a", "type": "quantitative",
          "scale": {"domain": [0, 10], "nice": false, "zero": false},
          "axis": {
            "orient": "left",
            "values": [0, 2, 4, 6, 8, 10],
            "labels": false, "grid": false, "zindex": 1,
            "domainColor": "black", "domainWidth": 3,
            "tickColor": "black", "tickWidth": 2.5, "tickSize": 17,
            "title": "Absorbance (a.u)", "titleFont": "DejaVu Sans", "titleFontWeight": "bold", "titleFontSize": 24, "titleColor": "#111111",
            "titleX": -42, "titleY": 285.5, "titleAngle": 270, "titleBaseline": "bottom", "titleAlign": "center"
          }
        },
        "color": {
          "field": "s", "type": "nominal",
          "scale": {"domain": ["0.00", "0.01", "0.03", "0.05", "0.07", "0.10"], "range": ["#000000", "#ff0000", "#0000ff", "#ff00ff", "#008000", "#000080"]},
          "legend": {
            "orient": "none", "legendX": 820, "legendY": 44, "padding": 0,
            "title": null,
            "labelFont": "DejaVu Sans", "labelFontSize": 27, "labelColor": "#222222", "labelOffset": 10,
            "symbolType": "stroke", "symbolSize": 9409, "symbolStrokeWidth": 3,
            "clipHeight": 27, "rowPadding": 11
          }
        }
      }
    },
    {
      "data": {"values": [{}]},
      "mark": {"type": "rect", "fill": "white", "fillOpacity": 0, "stroke": "black", "strokeWidth": 2.5},
      "encoding": {
        "x": {"datum": 197.87, "type": "quantitative", "axis": null, "scale": {"domain": [197.87, 249.2], "range": [294.5, 768.7], "nice": false, "zero": false}},
        "x2": {"datum": 249.2},
        "y": {"datum": 0.48, "type": "quantitative", "axis": null, "scale": {"domain": [0.48, 7.976], "range": [350.2, 80.8], "nice": false, "zero": false}},
        "y2": {"datum": 7.976}
      }
    },
    {
      "data": {"name": "inset"},
      "mark": {"type": "line", "strokeWidth": 3},
      "encoding": {
        "x": {
          "field": "wl", "type": "quantitative",
          "scale": {"domain": [197.87, 249.2], "range": [294.5, 768.7], "nice": false, "zero": false},
          "axis": {
            "orient": "bottom", "offset": -244.3, "zindex": 1,
            "values": [200, 210, 220, 230, 240],
            "format": "d",
            "grid": false, "domainColor": "black", "domainWidth": 2.5, "tickColor": "black", "tickWidth": 2, "tickSize": 5,
            "labelFont": "DejaVu Sans", "labelFontSize": 17, "labelColor": "#333333", "labelPadding": 4.6,
            "labelFlush": false, "labelOverlap": false,
            "title": "Wavelenght (nm)", "titleFont": "DejaVu Sans", "titleFontWeight": "bold", "titleFontSize": 18, "titleColor": "#222222",
            "titleX": 531, "titleY": 42.3, "titleBaseline": "alphabetic", "titleAlign": "center"
          }
        },
        "y": {
          "field": "a", "type": "quantitative",
          "scale": {"domain": [0.48, 7.976], "range": [350.2, 80.8], "nice": false, "zero": false},
          "axis": {
            "orient": "left", "offset": -294.5, "zindex": 1,
            "values": [2, 4, 6],
            "labels": false, "grid": false, "domainColor": "black", "domainWidth": 2.5, "tickColor": "black", "tickWidth": 2, "tickSize": 8,
            "title": "Absorption (a.u.)", "titleFont": "DejaVu Sans", "titleFontWeight": "bold", "titleFontSize": 14, "titleColor": "#222222",
            "titleX": -18, "titleY": 205, "titleAngle": 270, "titleBaseline": "bottom", "titleAlign": "center"
          }
        },
        "color": {
          "field": "s", "type": "nominal",
          "scale": {"domain": ["0.00", "0.01", "0.03", "0.05", "0.07", "0.10"], "range": ["#000000", "#ff0000", "#0000ff", "#ff00ff", "#008000", "#000080"]},
          "legend": null
        }
      }
    },
    {
      "data": {"values": [{}]},
      "mark": {"type": "point", "opacity": 0},
      "encoding": {
        "x": {"datum": 500, "type": "quantitative", "scale": {"domain": [150, 850], "nice": false, "zero": false},
          "axis": {"orient": "bottom", "values": [150, 250, 350, 450, 550, 650, 750, 850], "labels": false, "domain": false, "grid": false, "zindex": 1, "tickColor": "black", "tickWidth": 2.5, "tickSize": 6, "title": null}},
        "y": {"datum": 5, "type": "quantitative", "scale": {"domain": [0, 10], "nice": false, "zero": false},
          "axis": {"orient": "left", "values": [1, 3, 5, 7, 9], "labels": false, "domain": false, "grid": false, "zindex": 1, "tickColor": "black", "tickWidth": 2.5, "tickSize": 9, "title": null}}
      }
    },
    {
      "data": {"values": [{}]},
      "mark": {"type": "point", "opacity": 0},
      "encoding": {
        "x": {"datum": 220, "type": "quantitative", "scale": {"domain": [197.87, 249.2], "range": [294.5, 768.7], "nice": false, "zero": false},
          "axis": {"orient": "bottom", "offset": -244.3, "values": [205, 215, 225, 235, 245], "labels": false, "domain": false, "grid": false, "zindex": 1, "tickColor": "black", "tickWidth": 2, "tickSize": 3, "title": null}},
        "y": {"datum": 4, "type": "quantitative", "scale": {"domain": [0.48, 7.976], "range": [350.2, 80.8], "nice": false, "zero": false},
          "axis": {"orient": "left", "offset": -294.5, "values": [1, 3, 5, 7], "labels": false, "domain": false, "grid": false, "zindex": 1, "tickColor": "black", "tickWidth": 2, "tickSize": 4.5, "title": null}}
      }
    }
  ]
}
